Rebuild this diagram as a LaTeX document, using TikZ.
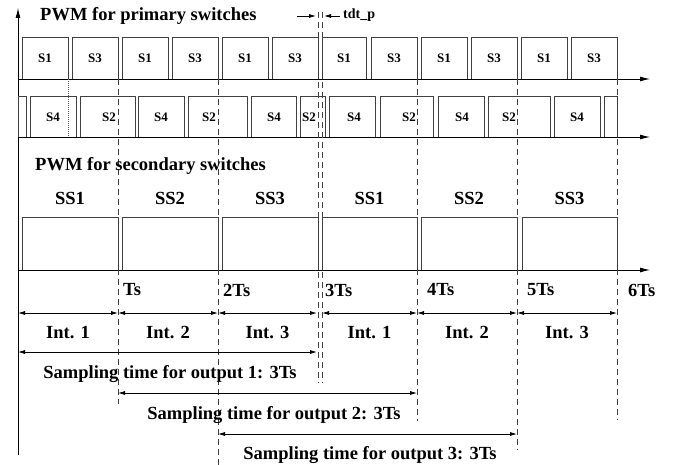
\documentclass[tikz,border=0pt]{standalone}
\usepackage{fontspec}
\setmainfont{Liberation Serif}
\usetikzlibrary{arrows.meta}
\begin{document}
\begin{tikzpicture}[x=1pt,y=-1pt,
  wave/.style={line width=0.9pt, draw=black!75},
  axisline/.style={line width=0.9pt,-{Latex[length=10pt,width=5pt]}},
  dimline/.style={line width=0.8pt,{Latex[length=7pt,width=4pt]}-{Latex[length=7pt,width=4pt]}},
  oneway/.style={line width=0.8pt,-{Latex[length=7pt,width=4pt]}},
  guide/.style={dash pattern=on 6pt off 4pt, line width=0.7pt, draw=black!75},
  dotguide/.style={dash pattern=on 1pt off 1pt, line width=0.6pt, draw=black!60},
  big/.style={font=\fontsize{18.5}{21}\selectfont\bfseries, inner sep=0pt},
  small/.style={font=\fontsize{13}{15}\selectfont\bfseries, inner sep=0pt},
  tiny/.style={font=\fontsize{14}{16}\selectfont\bfseries, inner sep=0pt},
]
\useasboundingbox (0,0) rectangle (674,465);

% axes
\coordinate (o) at (18,455);
\coordinate (otop) at (18,8);
\draw[axisline] (o) -- (otop);
\coordinate (a1s) at (18,79);  \coordinate (a1e) at (650,79);
\coordinate (a2s) at (18,137); \coordinate (a2e) at (650,137);
\coordinate (a3s) at (18,270); \coordinate (a3e) at (650,270);
\draw[axisline] (a1s) -- (a1e);
\draw[axisline] (a2s) -- (a2e);
\draw[axisline] (a3s) -- (a3e);

% guides
\draw[guide] (118,79) -- (118,404);
\draw[guide] (218,79) -- (218,465);
\draw[guide] (318,12) -- (318,383);
\draw[guide] (322,12) -- (322,383);
\draw[guide] (417,79) -- (417,421);
\draw[guide] (517,79) -- (517,450);
\draw[guide] (617,79) -- (617,420);
\draw[dotguide] (68,79) -- (68,137);

% titles
\node[big, anchor=base west] (t1) at (40,21) {PWM for primary switches};
\node[big, anchor=base west] (t2) at (35,171) {PWM for secondary switches};

% dead time marker
\coordinate (dl) at (297,16); \coordinate (dlt) at (316,16);
\coordinate (dr) at (340,16); \coordinate (drt) at (324,16);
\draw[oneway] (dl) -- (dlt);
\draw[oneway] (dr) -- (drt);
\node[tiny, anchor=base west] (tdt) at (343,19) {tdt\_p};

% primary row 1
\foreach \a/\b/\l [count=\i] in {22/68/S1,72/118/S3,122/168/S1,172/218/S3,222/268/S1,272/318/S3,
  322/366/S1,371/417/S3,421/467/S1,471/517/S3,521/567/S1,571/617/S3}{
  \draw[wave] (\a,79) |- (\b,37) -- (\b,79);
  \node[small] (r1-\i) at ({(\a+\b)/2},58) {\l};
}

% primary row 2
\foreach \a/\b in {18/26,30/76,80/135,138/184,188/247,251/296,300/325,329/375,380/433,438/484,488/550,554/600,604/617}{
  \draw[wave] (\a,137) |- (\b,96) -- (\b,137);
}
\foreach \x [count=\i] in {53,161,274,354,462,577}{
  \node[small] (s4-\i) at (\x,117) {S4};
}
\foreach \x [count=\i] in {116,216,316,416,516}{
  \node[small, anchor=east] (s2-\i) at (\x,117) {S2};
}

% secondary
\foreach \a/\b/\l [count=\i] in {22/118/SS1,122/218/SS2,222/318/SS3,322/417/SS1,421/517/SS2,522/617/SS3}{
  \draw[wave] (\a,270) |- (\b,217) -- (\b,270);
  \node[big] (ss-\i) at ({(\a+\b)/2},198) {\l};
}

% time labels
\node[big, anchor=west] (ts1) at (123,290) {Ts};
\node[big, anchor=west] (ts2) at (223,290) {2Ts};
\node[big, anchor=west] (ts3) at (325,290) {3Ts};
\node[big, anchor=west] (ts4) at (427,290) {4Ts};
\node[big, anchor=west] (ts5) at (527,290) {5Ts};
\node[big, anchor=west] (ts6) at (628,290) {6Ts};

% intervals
\foreach \a/\b/\l [count=\i] in {18/118/Int. 1,118/218/Int. 2,218/317/Int. 3,322/417/Int. 1,417/517/Int. 2,517/617/Int. 3}{
  \coordinate (ia-\i) at (\a,313);
  \coordinate (ib-\i) at (\b,313);
  \draw[dimline] (ia-\i) -- (ib-\i);
  \node[big] (int-\i) at ({(\a+\b)/2},333) {\l};
}

% sampling
\coordinate (sa1) at (18,352);  \coordinate (sb1) at (317,352);
\coordinate (sa2) at (118,393); \coordinate (sb2) at (417,393);
\coordinate (sa3) at (218,434); \coordinate (sb3) at (517,434);
\draw[dimline] (sa1) -- (sb1);
\draw[dimline] (sa2) -- (sb2);
\draw[dimline] (sa3) -- (sb3);
\node[big, anchor=base] (st1) at (170,378) {Sampling time for output 1: 3Ts};
\node[big, anchor=base] (st2) at (274,419) {Sampling time for output 2: 3Ts};
\node[big, anchor=base] (st3) at (370,459) {Sampling time for output 3: 3Ts};
\end{tikzpicture}
\end{document}
